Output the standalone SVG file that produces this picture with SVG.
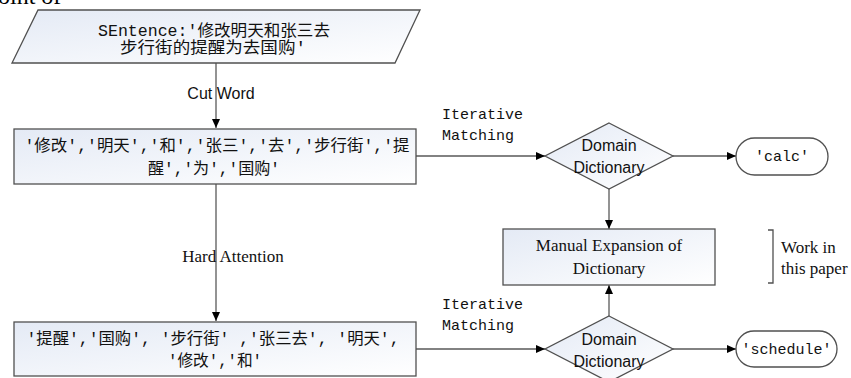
<svg xmlns="http://www.w3.org/2000/svg" width="851" height="378" viewBox="0 0 851 378">
<defs>
<linearGradient id="g" x1="0" y1="0" x2="1" y2="1">
<stop offset="0" stop-color="#e4eaf5"/>
<stop offset="1" stop-color="#ffffff"/>
</linearGradient>
<marker id="ah" markerWidth="10" markerHeight="8" refX="9" refY="4" orient="auto" markerUnits="userSpaceOnUse">
<path d="M0,0 L9,4 L0,8 Z" fill="#000"/>
</marker>
<style>
.shape{fill:url(#g);stroke:#505050;stroke-width:1.3}
.plain{fill:#fff;stroke:#505050;stroke-width:1.3}
.conn{stroke:#595959;stroke-width:1.3;fill:none;marker-end:url(#ah)}
.cjk{font-family:"Liberation Mono","Noto Sans CJK SC",monospace;font-size:16px;fill:#111}
.sans{font-family:"Liberation Sans","Noto Sans CJK SC",sans-serif;font-size:16px;fill:#111}
.serif{font-family:"Liberation Serif",serif;font-size:17px;fill:#111}
.mono{font-family:"Liberation Mono",monospace;font-size:15px;fill:#111}
</style>
</defs>
<rect width="851" height="378" fill="#fff"/>
<text x="-2" y="4" font-family="Liberation Serif, serif" font-size="24" fill="#000">oint of</text>

<g id="connectors">
<line class="conn" x1="216" y1="63" x2="216" y2="128"/>
<line class="conn" x1="416" y1="156" x2="545" y2="156"/>
<line class="conn" x1="673" y1="156" x2="736" y2="156"/>
<line class="conn" x1="609" y1="189" x2="609" y2="229"/>
<line class="conn" x1="216" y1="184" x2="216" y2="321"/>
<line class="conn" x1="416" y1="349" x2="545" y2="349"/>
<line class="conn" x1="673" y1="349" x2="736" y2="349"/>
<line class="conn" x1="609" y1="316" x2="609" y2="285"/>
<text class="sans" x="221" y="99" text-anchor="middle">Cut Word</text>
<text class="serif" x="233" y="262" text-anchor="middle">Hard Attention</text>
<text class="mono" x="442" y="119">Iterative</text>
<text class="mono" x="442" y="140">Matching</text>
<text class="mono" x="442" y="309">Iterative</text>
<text class="mono" x="442" y="330">Matching</text>
</g>

<g id="sentence">
<polygon class="shape" points="38,10 420,10 395,63 12,63"/>
<text class="cjk" x="214" y="36" text-anchor="middle" textLength="232" lengthAdjust="spacingAndGlyphs">SEntence:'修改明天和张三去</text>
<text class="cjk" x="213" y="53" text-anchor="middle" textLength="186" lengthAdjust="spacingAndGlyphs">步行街的提醒为去国购'</text>
</g>

<g id="words">
<rect class="shape" x="14" y="129" width="402" height="55"/>
<text class="cjk" x="217" y="151" text-anchor="middle" textLength="385" lengthAdjust="spacingAndGlyphs">'修改','明天','和','张三','去','步行街','提</text>
<text class="cjk" x="214" y="174" text-anchor="middle" textLength="132" lengthAdjust="spacingAndGlyphs">醒','为','国购'</text>
</g>

<g id="reordered">
<rect class="shape" x="14" y="322" width="402" height="54"/>
<text class="cjk" x="213" y="344" text-anchor="middle" textLength="373" lengthAdjust="spacingAndGlyphs">'提醒','国购',  '步行街'  ,'张三去',  '明天',</text>
<text class="cjk" x="215" y="366" text-anchor="middle" textLength="94" lengthAdjust="spacingAndGlyphs">'修改','和'</text>
</g>

<g id="dict1">
<polygon class="shape" points="609,123 673,156 609,189 545,156"/>
<text class="sans" x="609" y="151" text-anchor="middle">Domain</text>
<text class="sans" x="609" y="173" text-anchor="middle">Dictionary</text>
</g>

<g id="calc">
<rect class="plain" x="736" y="138" width="92" height="37" rx="18.5"/>
<text class="mono" x="782" y="161" text-anchor="middle" font-size="14">'calc'</text>
</g>

<g id="manual">
<rect class="shape" x="503" y="229" width="212" height="56"/>
<text class="serif" x="609" y="251" text-anchor="middle">Manual Expansion of</text>
<text class="serif" x="609" y="274" text-anchor="middle">Dictionary</text>
</g>

<g id="bracket">
<path d="M768,230 H773 V283 H768" fill="none" stroke="#505050" stroke-width="1.3"/>
<text class="serif" x="781" y="253">Work in</text>
<text class="serif" x="781" y="274">this paper</text>
</g>

<g id="dict2">
<polygon class="shape" points="609,316 673,349 609,382 545,349"/>
<text class="sans" x="609" y="345" text-anchor="middle">Domain</text>
<text class="sans" x="609" y="367" text-anchor="middle">Dictionary</text>
</g>

<g id="schedule">
<rect class="plain" x="736" y="331" width="101" height="36" rx="18"/>
<text class="mono" x="786.5" y="354" text-anchor="middle">'schedule'</text>
</g>
</svg>
